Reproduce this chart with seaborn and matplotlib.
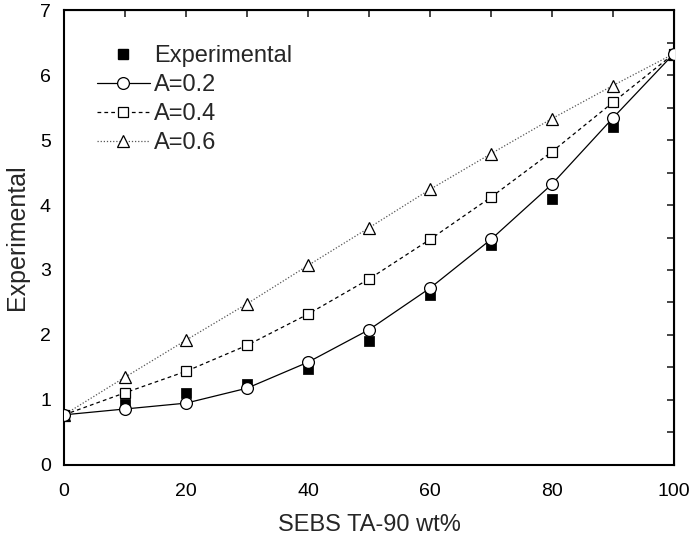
import pandas as pd
import seaborn as sns
import matplotlib.pyplot as plt
from matplotlib.lines import Line2D
from matplotlib.ticker import MultipleLocator

# valores
wt = [0, 10, 20, 30, 40, 50, 60, 70, 80, 90, 100]
experimental = [0.77, 0.94, 1.10, 1.24, 1.48, 1.90, 2.61, 3.38, 4.10, 5.20, 6.33]
a02 = [0.77, 0.86, 0.95, 1.18, 1.58, 2.08, 2.72, 3.47, 4.32, 5.34, 6.33]
a04 = [0.77, 1.11, 1.44, 1.84, 2.32, 2.86, 3.47, 4.12, 4.82, 5.58, 6.33]
a06 = [0.77, 1.35, 1.92, 2.48, 3.07, 3.65, 4.24, 4.79, 5.33, 5.84, 6.33]

df = pd.DataFrame({'wt': wt, 'exp': experimental, 'a02': a02, 'a04': a04, 'a06': a06})

sns.set_style('white')
plt.rcParams['font.family'] = ['Liberation Sans', 'DejaVu Sans']

fig = plt.figure(figsize=(6.89, 5.38), dpi=100)
ax = fig.add_axes([0.093, 0.136, 0.885, 0.845])

estilo06 = dict(color='#555555', linestyle=(0, (1, 1.5)), linewidth=0.9, marker='^', markersize=9,
                markerfacecolor='white', markeredgecolor='black', markeredgewidth=0.9)
estilo04 = dict(color='black', linestyle=(0, (3, 2.5)), linewidth=0.9, marker='s', markersize=7.5,
                markerfacecolor='white', markeredgecolor='black', markeredgewidth=0.9)
estilo02 = dict(color='black', linestyle='-', linewidth=0.9, marker='o', markersize=8.5,
                markerfacecolor='white', markeredgecolor='black', markeredgewidth=0.9)

sns.lineplot(x='wt', y='a06', data=df, ax=ax, **estilo06)
sns.lineplot(x='wt', y='a04', data=df, ax=ax, **estilo04)
sns.scatterplot(x='wt', y='exp', data=df, ax=ax, color='black', marker='s', s=45,
                edgecolor='black', zorder=3)
sns.lineplot(x='wt', y='a02', data=df, ax=ax, zorder=4, **estilo02)

ax.set_xlim(0, 100)
ax.set_ylim(0, 7)
ax.xaxis.set_major_locator(MultipleLocator(20))
ax.xaxis.set_minor_locator(MultipleLocator(10))
ax.yaxis.set_major_locator(MultipleLocator(1))
ax.yaxis.set_minor_locator(MultipleLocator(0.5))
ax.tick_params(which='both', direction='out', width=1.2, labelsize=14, colors='black')
ax.tick_params(which='major', length=6)
ax.tick_params(which='minor', length=3.5)
ax.tick_params(axis='x', which='major', pad=7)
for s in ax.spines.values():
    s.set_linewidth(1.5)
    s.set_color('black')

# ticks para dentro no topo e à direita
top = ax.secondary_xaxis('top')
top.xaxis.set_major_locator(MultipleLocator(20))
top.xaxis.set_minor_locator(MultipleLocator(10))
top.tick_params(which='both', direction='in', length=5, width=1.2, labeltop=False)
right = ax.secondary_yaxis('right')
right.yaxis.set_major_locator(MultipleLocator(1))
right.yaxis.set_minor_locator(MultipleLocator(0.5))
right.tick_params(which='both', direction='in', length=5, width=1.2, labelright=False)

ax.set_xlabel('SEBS TA-90 wt%', fontsize=17, labelpad=10)
ax.set_ylabel('Experimental', fontsize=18, labelpad=8)

handles = [
    Line2D([], [], linestyle='none', marker='s', markersize=6.5, color='black'),
    Line2D([], [], **estilo02),
    Line2D([], [], **estilo04),
    Line2D([], [], **estilo06),
]
ax.legend(handles, ['Experimental', 'A=0.2', 'A=0.4', 'A=0.6'], loc='upper left',
          bbox_to_anchor=(0.03, 0.955), frameon=False, fontsize=17, handlelength=2.25,
          handletextpad=0.2, labelspacing=0.3, borderaxespad=0.2)

plt.savefig('out.png', dpi=100)
plt.close()
